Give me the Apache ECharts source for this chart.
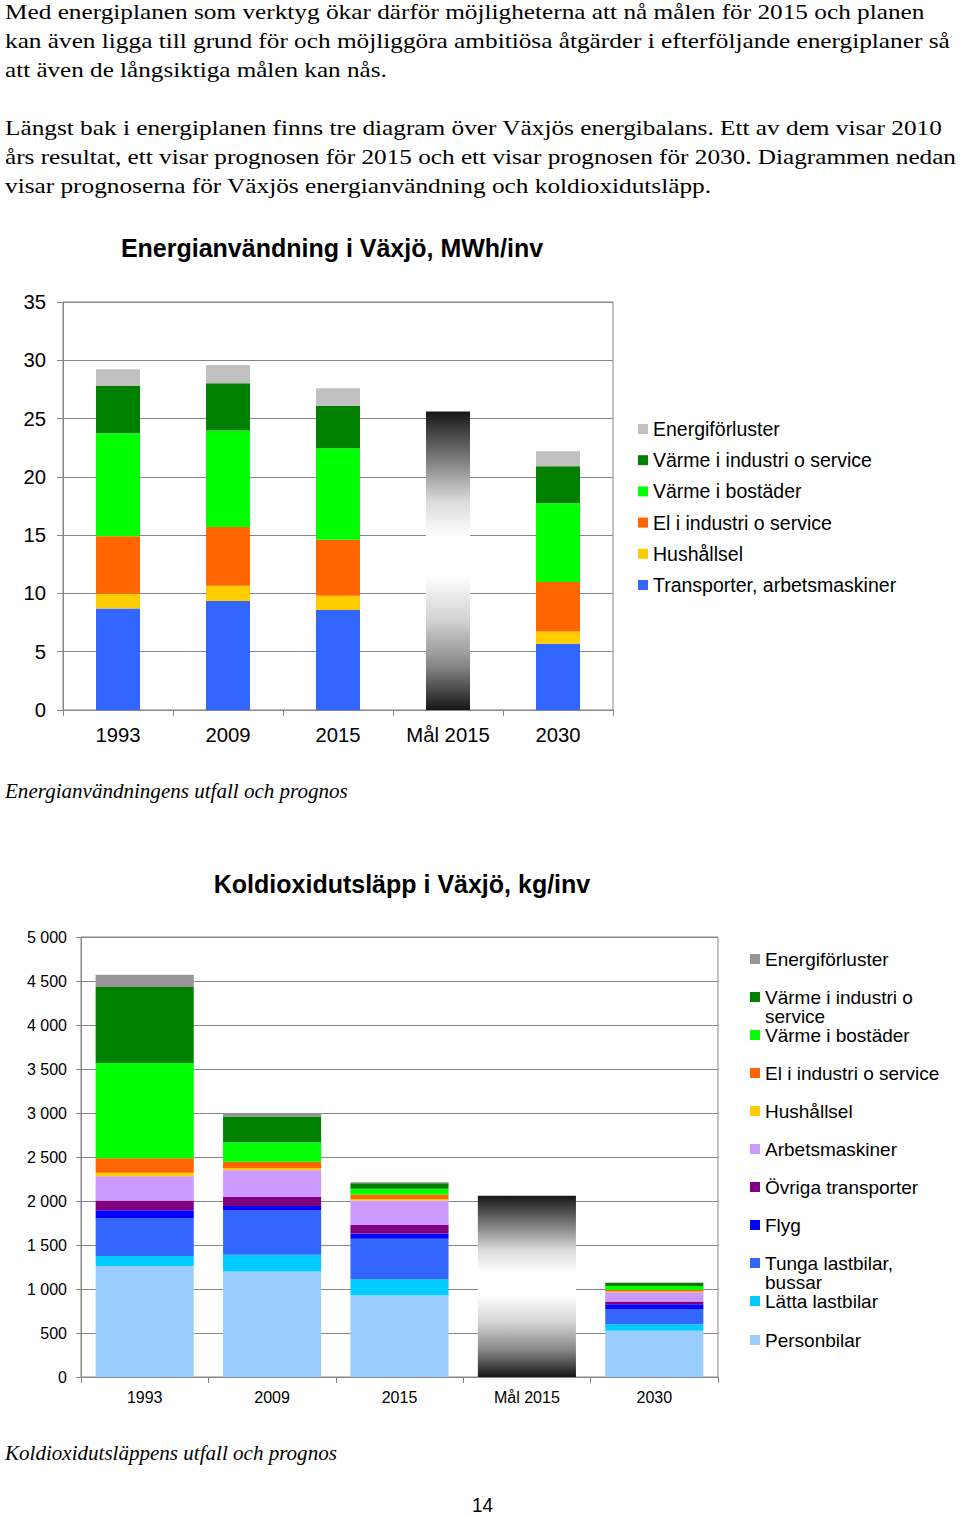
<!DOCTYPE html>
<html>
<head>
<meta charset="utf-8">
<script src="https://cdn.jsdelivr.net/npm/echarts@6/dist/echarts.min.js"></script>
<style>
html,body{margin:0;padding:0;background:#fff;}
#page{width:960px;height:1515px;}
</style>
</head>
<body>
<div id="page"></div>
<script>
// ---------- DATA ----------
const categories = ['1993', '2009', '2015', 'Mål 2015', '2030'];

// Energianvändning i Växjö, MWh/inv  (stacked bottom -> top)
const energyTicks = [0, 5, 10, 15, 20, 25, 30, 35];
const enTransport = [8.71, 9.34, 8.57, '-', 5.69];
const enHushall   = [1.26, 1.32, 1.23, '-', 1.05];
const enElInd     = [4.94, 5.03, 4.80, '-', 4.23];
const enVarmeBost = [8.83, 8.28, 7.86, '-', 6.77];
const enVarmeInd  = [4.06, 4.06, 3.65, '-', 3.17];
const enForluster = [1.43, 1.57, 1.49, '-', 1.29];
const enMal       = ['-', '-', '-', 25.6, '-'];

// Koldioxidutsläpp i Växjö, kg/inv  (stacked bottom -> top)
const co2Ticks = [0, 500, 1000, 1500, 2000, 2500, 3000, 3500, 4000, 4500, 5000];
const co2Personbil  = [1260, 1200, 930, '-', 525];
const co2Latta      = [114, 189, 180, '-', 74];
const co2Tunga      = [431, 503, 460, '-', 175];
const co2Flyg       = [91, 50, 62, '-', 52];
const co2Ovriga     = [110, 106, 95, '-', 32];
const co2Arbets     = [276, 302, 280, '-', 104];
const co2Hushall    = [38, 23, 15, '-', 10];
const co2ElInd      = [167, 72, 53, '-', 18];
const co2VarmeBost  = [1082, 223, 64, '-', 44];
const co2VarmeInd   = [863, 292, 63, '-', 34];
const co2Forluster  = [140, 38, 11, '-', 5];
const co2Mal        = ['-', '-', '-', 2060, '-'];

// Page texts
const paragraphLines = [
  'Med energiplanen som verktyg ökar därför möjligheterna att nå målen för 2015 och planen',
  'kan även ligga till grund för och möjliggöra ambitiösa åtgärder i efterföljande energiplaner så',
  'att även de långsiktiga målen kan nås.',
  'Längst bak i energiplanen finns tre diagram över Växjös energibalans. Ett av dem visar 2010',
  'års resultat, ett visar prognosen för 2015 och ett visar prognosen för 2030. Diagrammen nedan',
  'visar prognoserna för Växjös energianvändning och koldioxidutsläpp.'
];
const caption1 = 'Energianvändningens utfall och prognos';
const caption2 = 'Koldioxidutsläppens utfall och prognos';
const pageNumber = '14';
const title1 = 'Energianvändning i Växjö, MWh/inv';
const title2 = 'Koldioxidutsläpp i Växjö, kg/inv';

// ---------- STYLE ----------
const SANS = "'Liberation Sans', Arial, Helvetica, sans-serif";
const SERIF = "'Liberation Serif', 'Times New Roman', Times, serif";
const GRID_GRAY = '#868686';

const chart = echarts.init(document.getElementById('page'), null, {renderer: 'svg', width: 960, height: 1515});

const mctx = document.createElement('canvas').getContext('2d');
function fitScale(text, fontStyle, size, family, width) {
  mctx.font = fontStyle + ' ' + size + 'px ' + family;
  const w = mctx.measureText(text).width;
  return w > 0 ? width / w : 1;
}
function textEl(text, x, y, targetWidth, size, fontStyle, family) {
  const s = targetWidth ? fitScale(text, fontStyle, size, family, targetWidth) : 1;
  return {
    type: 'text', x: x, y: y, scaleX: s, silent: true,
    style: {text: text, fontSize: size, fontFamily: family, fontStyle: fontStyle,
            fill: '#000', align: 'left', verticalAlign: 'middle'}
  };
}

const paraY = [12, 41, 70, 128, 157, 186];
const paraW = [920, 945, 382, 938, 952, 707];
const graphicEls = paragraphLines.map((t, i) => textEl(t, 5, paraY[i], paraW[i], 22, 'normal', SERIF));
graphicEls.push(textEl(caption1, 5, 791, 343, 21, 'italic', SERIF));
graphicEls.push(textEl(caption2, 5, 1453, 332, 21, 'italic', SERIF));
graphicEls.push(textEl(pageNumber, 472, 1505, 21, 20, 'normal', SANS));

const malGradient = new echarts.graphic.LinearGradient(0, 0, 0, 1, [
  {offset: 0, color: '#161616'},
  {offset: 0.15, color: '#767676'},
  {offset: 0.3, color: '#dadada'},
  {offset: 0.42, color: '#ffffff'},
  {offset: 0.55, color: '#ffffff'},
  {offset: 0.7, color: '#d2d2d2'},
  {offset: 0.85, color: '#888888'},
  {offset: 1, color: '#161616'}
]);

function stackSeries(name, data, color, idx, barWidth) {
  return {
    type: 'bar', name: name, data: data, stack: 's' + idx,
    xAxisIndex: idx, yAxisIndex: idx, barWidth: barWidth,
    itemStyle: {color: color}, emphasis: {disabled: true}
  };
}

const series = [
  stackSeries('Transporter, arbetsmaskiner', enTransport, '#3366FF', 0, '40%'),
  stackSeries('Hushållsel', enHushall, '#FFCC00', 0, '40%'),
  stackSeries('El i industri o service', enElInd, '#FF6600', 0, '40%'),
  stackSeries('Värme i bostäder', enVarmeBost, '#00FF00', 0, '40%'),
  stackSeries('Värme i industri o service', enVarmeInd, '#008000', 0, '40%'),
  stackSeries('Energiförluster', enForluster, '#C0C0C0', 0, '40%'),
  stackSeries('Mål 2015', enMal, malGradient, 0, '40%'),

  stackSeries('Personbilar', co2Personbil, '#99CCFF', 1, '77%'),
  stackSeries('Lätta lastbilar', co2Latta, '#00CCFF', 1, '77%'),
  stackSeries('Tunga lastbilar, bussar', co2Tunga, '#3366FF', 1, '77%'),
  stackSeries('Flyg', co2Flyg, '#0000FF', 1, '77%'),
  stackSeries('Övriga transporter', co2Ovriga, '#800080', 1, '77%'),
  stackSeries('Arbetsmaskiner', co2Arbets, '#CC99FF', 1, '77%'),
  stackSeries('Hushållsel', co2Hushall, '#FFCC00', 1, '77%'),
  stackSeries('El i industri o service', co2ElInd, '#FF6600', 1, '77%'),
  stackSeries('Värme i bostäder', co2VarmeBost, '#00FF00', 1, '77%'),
  stackSeries('Värme i industri o service', co2VarmeInd, '#008000', 1, '77%'),
  stackSeries('Energiförluster', co2Forluster, '#969696', 1, '77%'),
  stackSeries('Mål 2015', co2Mal, malGradient, 1, '77%')
];

const legend1 = {
  left: 638, top: 418, orient: 'vertical', padding: 0,
  itemWidth: 10, itemHeight: 10, itemGap: 9.2, selectedMode: false,
  icon: 'rect', textStyle: {color: '#000', fontSize: 19.5, fontFamily: SANS, lineHeight: 22},
  data: ['Energiförluster', 'Värme i industri o service', 'Värme i bostäder',
         'El i industri o service', 'Hushållsel', 'Transporter, arbetsmaskiner']
};

// Chart 2 legend: one entry per row; long names wrap onto a second line below the first
const legend2Names = ['Energiförluster', 'Värme i industri o service', 'Värme i bostäder',
  'El i industri o service', 'Hushållsel', 'Arbetsmaskiner', 'Övriga transporter', 'Flyg',
  'Tunga lastbilar, bussar', 'Lätta lastbilar', 'Personbilar'];
const legend2Centers = [959, 997, 1035, 1073, 1111, 1149, 1187, 1225, 1263, 1301, 1340];
const wrapSplit = {
  'Värme i industri o service': ['Värme i industri o', 'service'],
  'Tunga lastbilar, bussar': ['Tunga lastbilar,', 'bussar']
};
const legends2 = legend2Names.map((n, i) => ({
  left: 750, top: legend2Centers[i] - 9.5, orient: 'vertical', padding: 0,
  itemWidth: 10, itemHeight: 10, selectedMode: false, icon: 'rect',
  textStyle: {color: '#000', fontSize: 19, fontFamily: SANS, lineHeight: 19},
  formatter: name => wrapSplit[name] ? wrapSplit[name][0] : name,
  data: [n === 'Energiförluster' ? {name: n, itemStyle: {color: '#969696'}} : n]
}));
legend2Names.forEach((n, i) => {
  if (wrapSplit[n]) {
    graphicEls.push({
      type: 'text', x: 765, y: legend2Centers[i] + 19.5, silent: true,
      style: {text: wrapSplit[n][1], fontSize: 19, lineHeight: 17, fontFamily: SANS, fill: '#000',
              align: 'left', verticalAlign: 'middle'}
    });
  }
});

function sepFormatter(v) {
  if (v < 1000) return String(v);
  return Math.floor(v / 1000) + ' ' + String(v % 1000).padStart(3, '0');
}

const option = {
  animation: false,
  backgroundColor: '#ffffff',
  textStyle: {fontFamily: SANS},
  title: [
    {text: title1, left: 332, top: 235, textAlign: 'center', padding: 0,
     textStyle: {fontSize: 25, fontWeight: 'bold', color: '#000', fontFamily: SANS}},
    {text: title2, left: 402, top: 871, textAlign: 'center', padding: 0,
     textStyle: {fontSize: 25, fontWeight: 'bold', color: '#000', fontFamily: SANS}}
  ],
  legend: [legend1].concat(legends2),
  grid: [
    {left: 63, top: 302, width: 550, height: 408, show: true, borderColor: GRID_GRAY, borderWidth: 1, backgroundColor: 'transparent'},
    {left: 81, top: 937, width: 637, height: 440, show: true, borderColor: GRID_GRAY, borderWidth: 1, backgroundColor: 'transparent'}
  ],
  xAxis: [
    {type: 'category', gridIndex: 0, data: categories,
     axisLine: {lineStyle: {color: GRID_GRAY, width: 1}},
     axisTick: {show: true, length: 6, lineStyle: {color: GRID_GRAY}},
     axisLabel: {fontSize: 20.3, color: '#000', margin: 15, fontFamily: SANS}},
    {type: 'category', gridIndex: 1, data: categories,
     axisLine: {lineStyle: {color: GRID_GRAY, width: 1}},
     axisTick: {show: true, length: 6, lineStyle: {color: GRID_GRAY}},
     axisLabel: {fontSize: 16, color: '#000', margin: 12, fontFamily: SANS}}
  ],
  yAxis: [
    {type: 'value', gridIndex: 0, min: energyTicks[0], max: energyTicks[energyTicks.length - 1],
     interval: energyTicks[1] - energyTicks[0],
     axisLine: {show: true, lineStyle: {color: GRID_GRAY}},
     axisTick: {show: true, length: 6, lineStyle: {color: GRID_GRAY}},
     splitLine: {show: true, lineStyle: {color: GRID_GRAY, width: 1}},
     axisLabel: {fontSize: 20.3, color: '#000', margin: 17, fontFamily: SANS}},
    {type: 'value', gridIndex: 1, min: co2Ticks[0], max: co2Ticks[co2Ticks.length - 1],
     interval: co2Ticks[1] - co2Ticks[0],
     axisLine: {show: true, lineStyle: {color: GRID_GRAY}},
     axisTick: {show: true, length: 5, lineStyle: {color: GRID_GRAY}},
     splitLine: {show: true, lineStyle: {color: GRID_GRAY, width: 1}},
     axisLabel: {fontSize: 16, color: '#000', margin: 14, fontFamily: SANS, formatter: sepFormatter}}
  ],
  graphic: {elements: graphicEls},
  series: series
};

chart.setOption(option);
</script>
</body>
</html>
